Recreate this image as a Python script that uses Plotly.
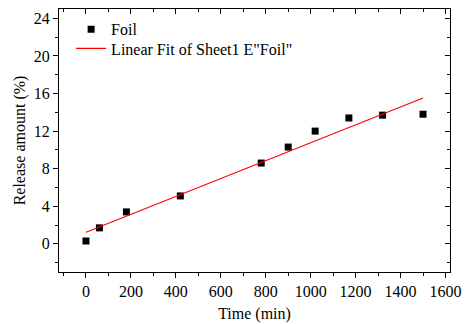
import numpy as np
import plotly.graph_objects as go

# Release data for the foil sample
time_min = [0, 60, 180, 420, 780, 900, 1020, 1170, 1320, 1500]
release_pct = [0.3, 1.7, 3.4, 5.1, 8.6, 10.3, 12.0, 13.4, 13.7, 13.8]

x_ticks = [0, 200, 400, 600, 800, 1000, 1200, 1400, 1600]
y_ticks = [0, 4, 8, 12, 16, 20, 24]

# Least-squares linear fit across the measured range
slope, intercept = np.polyfit(time_min, release_pct, 1)
fit_x = [time_min[0], time_min[-1]]
fit_y = [intercept + slope * v for v in fit_x]

FONT = "Liberation Serif"
FS = 16

fig = go.Figure()
fig.add_trace(go.Scatter(
    x=time_min, y=release_pct, mode="markers", name="Foil",
    marker=dict(symbol="square", size=7, color="black"),
    legend="legend",
))
fig.add_trace(go.Scatter(
    x=fit_x, y=fit_y, mode="lines", name='Linear Fit of Sheet1 E"Foil"',
    line=dict(color="red", width=1.1),
    legend="legend2",
))

x_range = [-120, 1620]
y_range = [-3, 25]

common = dict(showgrid=False, zeroline=False, showline=True, linecolor="black",
              linewidth=1, tickcolor="black", ticklen=5, tickwidth=1,
              automargin=False)

legend_style = dict(xanchor="left", yanchor="middle", bgcolor="rgba(0,0,0,0)",
                    font=dict(family=FONT, size=FS))

fig.update_layout(
    width=469, height=324,
    margin=dict(l=59, r=19, t=9, b=52),
    paper_bgcolor="white", plot_bgcolor="white",
    font=dict(family=FONT, size=FS, color="black"),
    showlegend=True,
    legend=dict(x=0.031, y=0.923, **legend_style),
    legend2=dict(x=0.031, y=0.850, **legend_style),
    xaxis=dict(range=x_range, tickvals=x_ticks, ticks="outside",
               tickfont=dict(family=FONT, size=FS),
               title=dict(text="Time (min)", font=dict(family=FONT, size=FS), standoff=8),
               minor=dict(dtick=100, tick0=0, ticks="outside", ticklen=3, tickcolor="black"),
               **common),
    yaxis=dict(range=y_range, tickvals=y_ticks, ticks="outside",
               tickfont=dict(family=FONT, size=FS),
               title=dict(text="Release amount (%)", font=dict(family=FONT, size=FS), standoff=4),
               minor=dict(dtick=2, tick0=0, ticks="outside", ticklen=3, tickcolor="black"),
               **common),
    xaxis2=dict(range=x_range, tickvals=x_ticks, ticks="inside", side="top",
                overlaying="x", showticklabels=False,
                minor=dict(dtick=100, tick0=0, ticks="inside", ticklen=3, tickcolor="black"),
                **common),
    yaxis2=dict(range=y_range, tickvals=y_ticks, ticks="inside", side="right",
                overlaying="y", showticklabels=False,
                minor=dict(dtick=2, tick0=0, ticks="inside", ticklen=3, tickcolor="black"),
                **common),
)

# Invisible trace to bring the top/right frame axes into the layout
fig.add_trace(go.Scatter(x=[None], y=[None], xaxis="x2", yaxis="y2",
                         showlegend=False, hoverinfo="skip"))

fig.write_html("out.html")
